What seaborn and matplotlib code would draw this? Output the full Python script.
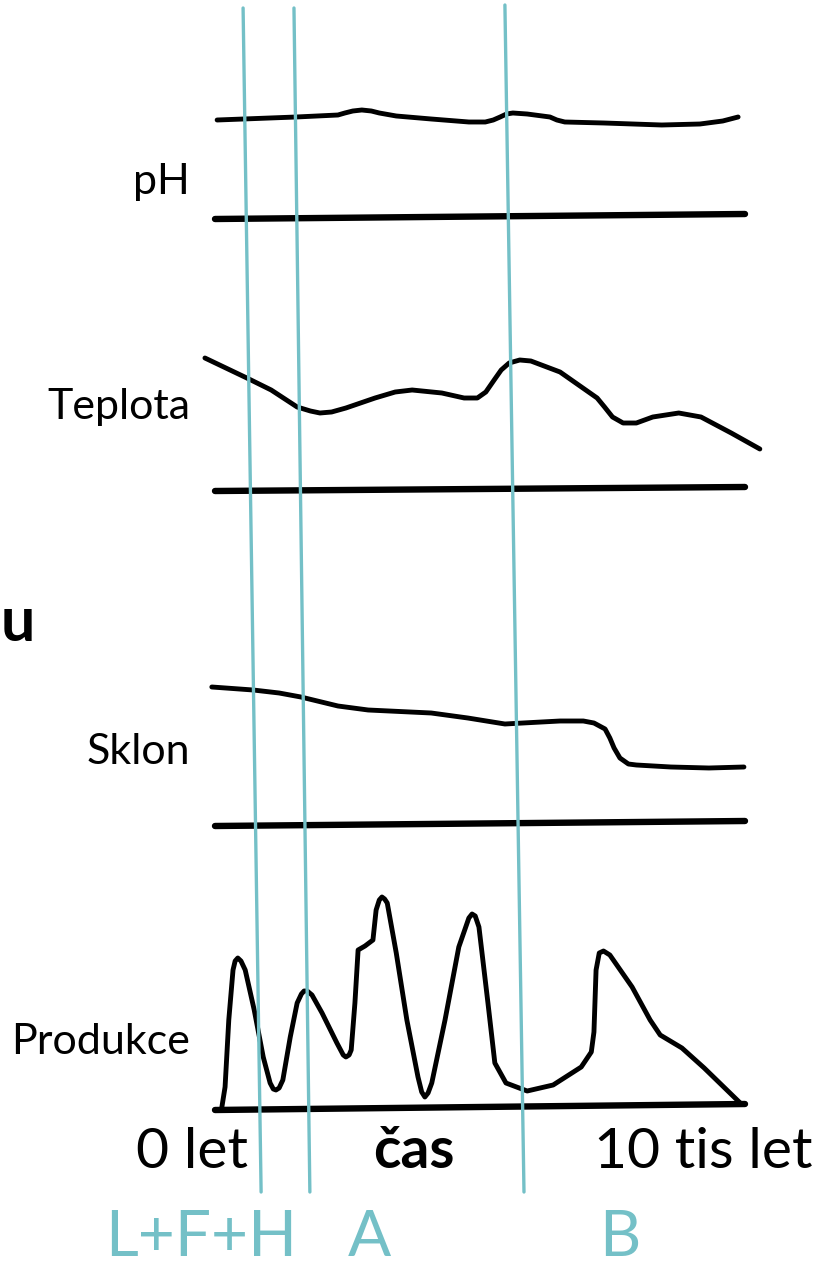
import numpy as np
import pandas as pd
import seaborn as sns
import matplotlib.pyplot as plt

# time in thousands of years (0 let .. 10 tis let), value = height above the panel baseline
ph_t = [0.04, 1.53, 2.32, 2.45, 2.60, 2.77, 2.95, 3.10, 3.42, 4.08, 4.79, 5.10, 5.25, 5.38,
        5.50, 5.62, 5.89, 6.32, 6.45, 6.60, 7.34, 8.43, 9.15, 9.58, 9.87]
ph_v = [97, 100, 102, 104, 106, 107, 106, 104, 101, 98, 95, 95, 97, 100,
        103, 104, 103, 100, 97, 95, 94, 92, 93, 96, 100]

temp_t = [-0.19, 0.64, 1.06, 1.55, 1.80, 1.98, 2.20, 2.47, 3.02, 3.40, 3.72, 4.28, 4.70,
          4.95, 5.11, 5.28, 5.40, 5.55, 5.75, 5.96, 6.51, 7.21, 7.35, 7.50, 7.70, 7.95,
          8.26, 8.75, 9.17, 9.74, 10.28]
temp_v = [131, 110, 99, 82, 78, 76, 77, 81, 91, 97, 99, 96, 91,
          91, 97, 110, 119, 126, 129, 128, 117, 91, 82, 72, 66, 66,
          72, 76, 72, 56, 40]

slope_t = [-0.06, 0.72, 1.21, 1.62, 2.32, 2.89, 4.08, 4.77, 5.47, 5.81, 6.51, 6.95, 7.15,
           7.36, 7.45, 7.53, 7.64, 7.80, 7.95, 8.60, 9.32, 9.98]
slope_v = [137, 134, 131, 127, 118, 114, 111, 106, 100, 101, 103, 103, 101,
           95, 86, 76, 66, 60, 59, 57, 56, 57]

prod_t = [0.13, 0.19, 0.26, 0.34, 0.38, 0.43, 0.49, 0.57, 0.74, 0.91, 1.04, 1.10, 1.15,
          1.21, 1.28, 1.42, 1.55, 1.63, 1.68, 1.74, 1.83, 2.02, 2.30, 2.42, 2.47, 2.53,
          2.57, 2.64, 2.70, 2.83, 2.98, 3.04, 3.10, 3.15, 3.20, 3.25, 3.42, 3.62, 3.83,
          3.90, 3.96, 4.02, 4.09, 4.34, 4.60, 4.79, 4.85, 4.91, 4.98, 5.15, 5.28, 5.49,
          5.89, 6.38, 6.91, 7.10, 7.15, 7.19, 7.25, 7.33, 7.45, 7.87, 8.21, 8.40, 8.81,
          9.23, 9.91]
prod_v = [0, 20, 87, 137, 146, 149, 146, 137, 97, 50, 24, 18, 17,
          19, 27, 70, 104, 113, 116, 116, 112, 94, 64, 52, 50, 52,
          57, 104, 157, 161, 167, 197, 207, 210, 208, 204, 154, 87, 30,
          15, 10, 14, 24, 87, 160, 189, 193, 191, 180, 104, 44, 24,
          16, 22, 40, 55, 75, 137, 154, 156, 152, 120, 87, 72, 59,
          39, 4]

panel_names = ["pH", "Teplota", "Sklon", "Produkce"]
panel_t = [ph_t, temp_t, slope_t, prod_t]
panel_v = [ph_v, temp_v, slope_v, prod_v]
panel_base = [217, 489, 824, 1107]
base_t = [0, 10]
base_v = [[-2, 3], [-2, 2], [-2, 3], [-3, 3]]
label_y = [182, 407, 752, 1042]

# soil horizon boundaries (slightly slanted lines)
bound_t = [[0.53, 0.87], [1.49, 1.79], [5.47, 5.83]]
bound_y = [[8, 1192], [8, 1192], [5, 1192]]
horizon_names = ["L+F+H", "A", "B"]
horizon_t = [-0.26, 2.91, 7.64]

axis_texts = ["0 let", "čas", "10 tis let"]
axis_text_t = [-0.43, 3.75, 9.21]

blue = "#74C0C7"

sns.set_theme(style="white")
plt.rcParams['font.family'] = ['Lato', 'DejaVu Sans']

fig = plt.figure(figsize=(8.17, 12.68), dpi=100)
ax = fig.add_axes([0, 0, 1, 1])

x_left = -215 / 53
x_right = (817 - 215) / 53

for name, t, v, base, bv, ly in zip(panel_names, panel_t, panel_v, panel_base, base_v, label_y):
    df = pd.DataFrame({"t": t, "y": base - np.array(v)})
    sns.lineplot(data=df, x="t", y="y", ax=ax, color="black", linewidth=3.5,
                 sort=False, estimator=None, solid_joinstyle="round",
                 solid_capstyle="round")
    bdf = pd.DataFrame({"t": base_t, "y": base - np.array(bv)})
    sns.lineplot(data=bdf, x="t", y="y", ax=ax, color="black", linewidth=4.6,
                 sort=False, estimator=None)
    ax.text(-0.47, ly, name, ha="right", va="center", fontsize=31, color="black")

for bt, by in zip(bound_t, bound_y):
    ldf = pd.DataFrame({"t": bt, "y": by})
    sns.lineplot(data=ldf, x="t", y="y", ax=ax, color=blue, linewidth=2.4,
                 sort=False, estimator=None)

for txt, tx in zip(axis_texts, axis_text_t):
    ax.text(tx, 1152, txt, ha="center", va="center", fontsize=41, color="black",
            fontweight="bold" if txt == "čas" else "normal")

for txt, tx in zip(horizon_names, horizon_t):
    ax.text(tx, 1267, txt, ha="center", va="bottom", fontsize=46, color=blue)

# leftover fragment of a title cut by the slide edge
ax.text(x_left + 0.01, 641, "u", ha="left", va="baseline", fontsize=44,
        fontweight="bold", color="black")

ax.set_xlim(x_left, x_right)
ax.set_ylim(1268, 0)
ax.axis("off")

fig.savefig("out.png", dpi=100)
